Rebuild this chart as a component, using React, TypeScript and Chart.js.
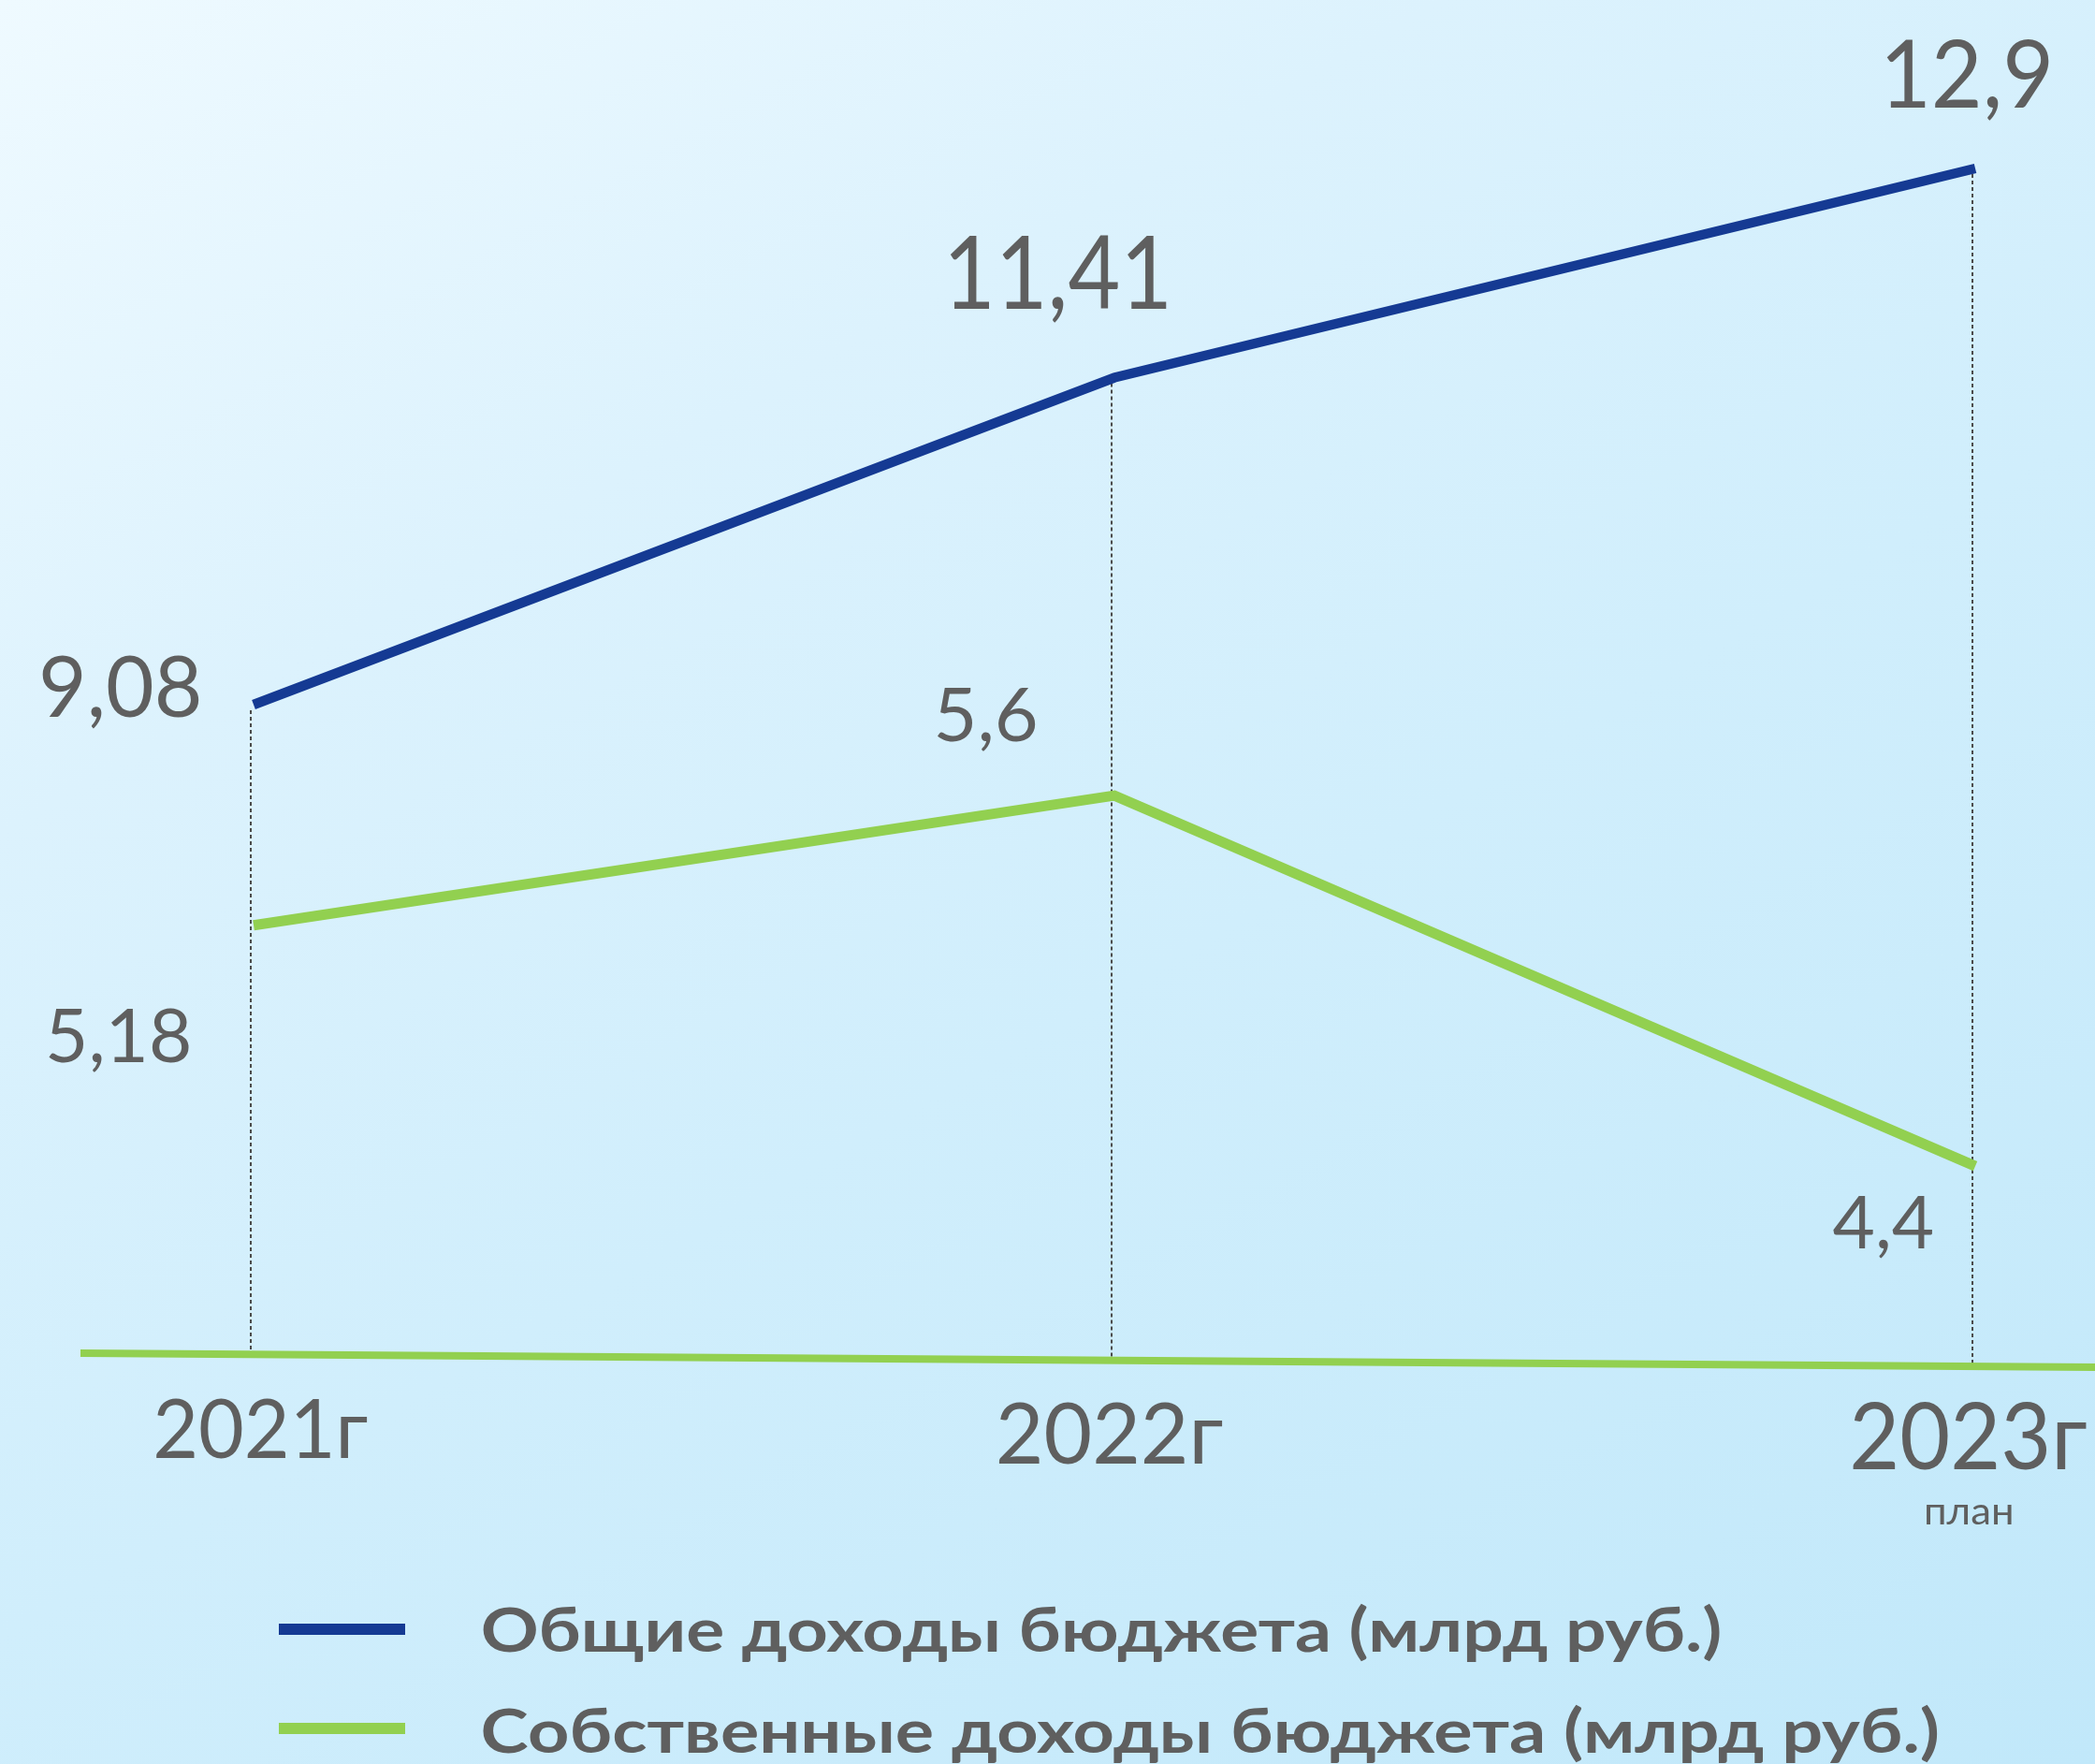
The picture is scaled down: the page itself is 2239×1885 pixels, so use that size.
import React, { useEffect, useRef } from "react";
import { Chart, registerables } from "chart.js";

Chart.register(...registerables);

// ---- data ----
const years = [2021, 2022, 2023];
const yearSuffix = "г";
const yearNotes = ["", "", "план"];
const totalIncome = [9.08, 11.41, 12.9];
const ownIncome = [5.18, 5.6, 4.4];
const seriesNames = [
  "Общие доходы бюджета (млрд руб.)",
  "Собственные доходы бюджета (млрд руб.)",
];
const seriesColors = ["#153a93", "#92d050"];

const W = 2239;
const H = 1885;
const TEXT = "#5f5f5f";
const NUM_FONT = "Lato, 'Open Sans', sans-serif";
const BOLD_FONT = "Lato, 'Open Sans', sans-serif";

// label placement: [dx, dy] of label centre from its point, cap height, ink width
const labelLayout = [
  [
    [-142, -20, 67, 168],
    [-60, -113, 79, 232],
    [-8, -101, 73, 173],
  ],
  [
    [-144, 117, 59, 150],
    [-137, -87, 58, 105],
    [-99, 60, 56, 107],
  ],
];
// year labels: dx, baseline, cap, width
const yearLayout = [
  [9, 1558, 65, 226],
  [-4, 1564, 68, 239],
  [-6, 1570, 73, 250],
];

const fmt = (v: number) => String(v).replace(".", ",");

// draws text whose ink has the given cap height and width
function drawInk(
  ctx: CanvasRenderingContext2D,
  text: string,
  x: number,
  baseline: number,
  cap: number,
  width: number,
  weight: string,
  family: string,
  align: "center" | "left"
) {
  ctx.textAlign = "left";
  ctx.textBaseline = "alphabetic";
  ctx.font = `${weight} 100px ${family}`;
  const m0 = ctx.measureText(text);
  const size = (100 * cap) / m0.actualBoundingBoxAscent;
  ctx.font = `${weight} ${size}px ${family}`;
  const m = ctx.measureText(text);
  const inkW = m.actualBoundingBoxRight + m.actualBoundingBoxLeft;
  const sx = width / inkW;
  ctx.save();
  if (align === "center") {
    ctx.translate(x - ((m.actualBoundingBoxRight - m.actualBoundingBoxLeft) / 2) * sx, baseline);
  } else {
    ctx.translate(x + m.actualBoundingBoxLeft * sx, baseline);
  }
  ctx.scale(sx, 1);
  ctx.fillText(text, 0, 0);
  ctx.restore();
}

const baseY = (x: number) => 1446 + (x - 86) * 0.00697;

const decor = {
  id: "decor",
  beforeDatasetsDraw(chart: any) {
    const ctx: CanvasRenderingContext2D = chart.ctx;
    const xs = chart.scales.x;
    const yb = chart.scales.yB;
    ctx.save();
    ctx.strokeStyle = "#4a4a4a";
    ctx.lineWidth = 2;
    ctx.setLineDash([4, 3]);
    years.forEach((yr, i) => {
      const x = xs.getPixelForValue(yr) - 3;
      const top = yb.getPixelForValue(totalIncome[i]) + 6;
      ctx.beginPath();
      ctx.moveTo(x, top);
      ctx.lineTo(x, baseY(x));
      ctx.stroke();
    });
    ctx.setLineDash([]);
    ctx.strokeStyle = seriesColors[1];
    ctx.lineWidth = 8;
    ctx.beginPath();
    ctx.moveTo(86, baseY(86));
    ctx.lineTo(W, baseY(W));
    ctx.stroke();
    ctx.restore();
  },
  afterDatasetsDraw(chart: any) {
    const ctx: CanvasRenderingContext2D = chart.ctx;
    const xs = chart.scales.x;
    ctx.save();
    ctx.fillStyle = TEXT;
    chart.data.datasets.forEach((ds: any, di: number) => {
      const meta = chart.getDatasetMeta(di);
      meta.data.forEach((pt: any, i: number) => {
        const [dx, dy, cap, w] = labelLayout[di][i];
        drawInk(ctx, fmt(ds.data[i].y), pt.x + dx, pt.y + dy + cap / 2, cap, w, "400", NUM_FONT, "center");
      });
    });
    years.forEach((yr, i) => {
      const x = xs.getPixelForValue(yr);
      const [dx, bl, cap, w] = yearLayout[i];
      drawInk(ctx, `${yr}${yearSuffix}`, x + dx, bl, cap, w, "400", NUM_FONT, "center");
      if (yearNotes[i]) {
        drawInk(ctx, yearNotes[i], x - 7, 1629, 22, 92, "400", NUM_FONT, "center");
      }
    });
    const rows = [
      [1741, 1765, 52, 1322],
      [1847, 1873, 51, 1555],
    ];
    chart.data.datasets.forEach((ds: any, di: number) => {
      const [cy, bl, cap, w] = rows[di];
      ctx.fillStyle = ds.borderColor;
      ctx.fillRect(298, cy - 6, 135, 12);
      ctx.fillStyle = TEXT;
      drawInk(ctx, ds.label, 516, bl, cap, w, "700", BOLD_FONT, "left");
    });
    ctx.restore();
  },
};

export default function App() {
  const ref = useRef<HTMLCanvasElement | null>(null);
  useEffect(() => {
    if (!ref.current) return;
    const chart = new Chart(ref.current, {
      type: "line",
      data: {
        datasets: [
          {
            label: seriesNames[0],
            data: years.map((x, i) => ({ x, y: totalIncome[i] })),
            yAxisID: "yB",
            borderColor: seriesColors[0],
            borderWidth: 10.5,
            borderCapStyle: "butt",
            pointRadius: 0,
            tension: 0,
          },
          {
            label: seriesNames[1],
            data: years.map((x, i) => ({ x, y: ownIncome[i] })),
            yAxisID: "yG",
            borderColor: seriesColors[1],
            borderWidth: 11,
            borderCapStyle: "butt",
            pointRadius: 0,
            tension: 0,
          },
        ],
      },
      options: {
        responsive: false,
        animation: false,
        devicePixelRatio: 1,
        layout: { padding: 0 },
        scales: {
          x: { type: "linear", min: 2020.7054, max: 2023.1391, display: false },
          yB: { type: "linear", min: 1.533, max: 14.1, display: false },
          yG: { type: "linear", min: 2.464, max: 8.176, display: false },
        },
        plugins: {
          legend: { display: false },
          tooltip: { enabled: false },
        },
      },
      plugins: [decor],
    } as any);
    return () => chart.destroy();
  }, []);
  return (
    <div
      style={{
        position: "absolute",
        left: 0,
        top: 0,
        width: W,
        height: H,
        overflow: "hidden",
        background:
          "linear-gradient(150deg, #effaff 0%, #dcf2fd 28%, #d0eefc 55%, #c1e8fa 100%)",
      }}
    >
      <canvas ref={ref} width={W} height={H} style={{ display: "block" }} />
    </div>
  );
}
